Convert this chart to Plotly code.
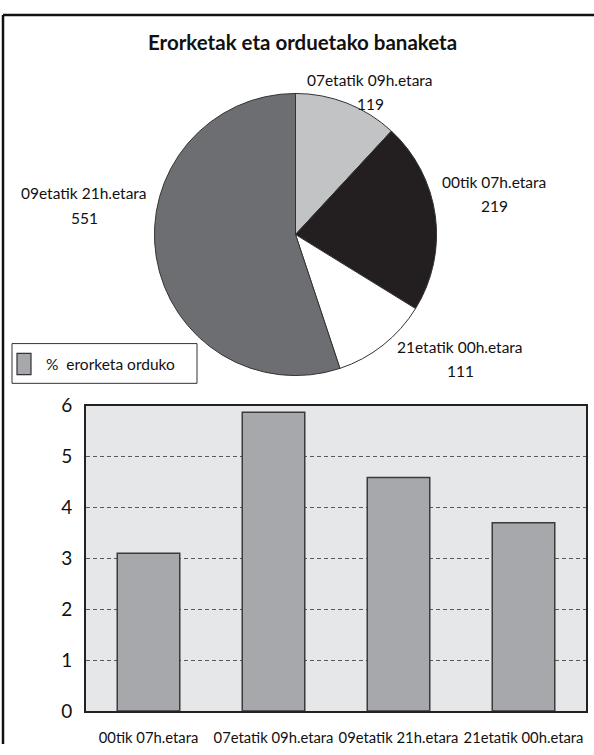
import plotly.graph_objects as go

# ---------------- data ----------------
categories = ["00tik 07h.etara", "07etatik 09h.etara", "09etatik 21h.etara", "21etatik 00h.etara"]
falls_count = [219, 119, 551, 111]          # pie values
pct_per_hour = [3.1, 5.87, 4.59, 3.7]       # bar values (% erorketa orduko)
y_tick_values = [0, 1, 2, 3, 4, 5, 6]
y_tick_labels = ["0", "1", "2", "3", "4", "5", "6"]
pie_order = [1, 0, 3, 2]                     # clockwise from 12 o'clock
title_text = "Erorketak eta orduetako banaketa"
legend_text = "%  erorketa orduko"

# ---------------- styles ----------------
W, H = 594, 755
FONT = "Lato"
LBL = 15.5
XLBL = 14.8
slice_colors = {
    "00tik 07h.etara": "#231f20",
    "07etatik 09h.etara": "#c2c3c5",
    "09etatik 21h.etara": "#6d6e71",
    "21etatik 00h.etara": "#ffffff",
}
bar_color = "#a7a8ab"
# label anchor positions in pixels: (center x, line1 y, line2 y)
pie_label_pos = {
    "07etatik 09h.etara": (370, 70, 95),
    "00tik 07h.etara": (494, 175, 200),
    "09etatik 21h.etara": (84, 187, 212),
    "21etatik 00h.etara": (460, 346, 370),
}


def px(x):
    return x / W


def py(y):
    return 1 - y / H


pie_labels = [categories[i] for i in pie_order]
pie_values = [falls_count[i] for i in pie_order]

fig = go.Figure()

fig.add_trace(go.Pie(
    labels=pie_labels,
    values=pie_values,
    sort=False,
    direction="clockwise",
    rotation=0,
    textinfo="none",
    hoverinfo="label+value",
    marker=dict(colors=[slice_colors[l] for l in pie_labels],
                line=dict(color="#333333", width=1)),
    domain=dict(x=[px(150), px(441)], y=[py(375), py(84)]),
    showlegend=False,
))

fig.add_trace(go.Bar(
    x=categories,
    y=pct_per_hour,
    marker=dict(color=bar_color, line=dict(color="#3a3a3a", width=1.5)),
    showlegend=False,
    xaxis="x", yaxis="y",
))

annotations = [
    dict(text="<b>" + title_text + "</b>", x=px(302), y=py(31), xref="paper", yref="paper",
         showarrow=False, font=dict(family=FONT, size=20.5, color="#111111"),
         xanchor="center", yanchor="middle"),
    dict(text=legend_text, x=px(44), y=py(363), xref="paper", yref="paper",
         showarrow=False, font=dict(family=FONT, size=LBL, color="#111111"),
         xanchor="left", yanchor="middle"),
]
for cat, cnt in zip(categories, falls_count):
    cx, y1, y2 = pie_label_pos[cat]
    annotations.append(dict(text=cat, x=px(cx), y=py(y1), xref="paper", yref="paper",
                            showarrow=False, font=dict(family=FONT, size=LBL, color="#111111"),
                            xanchor="center", yanchor="middle"))
    annotations.append(dict(text=str(cnt), x=px(cx), y=py(y2), xref="paper", yref="paper",
                            showarrow=False, font=dict(family=FONT, size=LBL, color="#111111"),
                            xanchor="center", yanchor="middle"))

shapes = [
    # outer frame (top and left)
    dict(type="line", xref="paper", yref="paper", x0=px(3), x1=1, y0=py(3), y1=py(3),
         line=dict(color="#111111", width=2.5)),
    dict(type="line", xref="paper", yref="paper", x0=px(3), x1=px(3), y0=py(3), y1=0,
         line=dict(color="#111111", width=2.5)),
    # legend box
    dict(type="rect", xref="paper", yref="paper", x0=px(12), x1=px(197), y0=py(383), y1=py(342),
         line=dict(color="#333333", width=1), fillcolor="white"),
    dict(type="rect", xref="paper", yref="paper", x0=px(17), x1=px(31), y0=py(374), y1=py(352),
         line=dict(color="#333333", width=1.2), fillcolor=bar_color),
]

fig.update_layout(
    width=W, height=H,
    margin=dict(l=0, r=0, t=0, b=0),
    paper_bgcolor="white",
    plot_bgcolor="#e6e7e8",
    bargap=0.5,
    font=dict(family=FONT, color="#111111"),
    annotations=annotations,
    shapes=shapes,
    xaxis=dict(
        domain=[px(86), px(586)],
        showline=True, linecolor="#222222", linewidth=2, mirror=True,
        showgrid=False, ticks="", ticklabelstandoff=12, tickangle=0,
        tickfont=dict(family=FONT, size=XLBL, color="#111111"),
        anchor="y",
    ),
    yaxis=dict(
        domain=[py(721), py(406)],
        range=[0, 6],
        tickvals=y_tick_values, ticktext=y_tick_labels,
        showline=True, linecolor="#222222", linewidth=2, mirror=True,
        showgrid=True, gridcolor="#5a5a5a", gridwidth=1, griddash="4px,3px",
        zeroline=False, ticks="", ticklabelstandoff=8,
        tickfont=dict(family=FONT, size=19, color="#111111"),
        anchor="x",
    ),
)

fig.write_html("out.html")
